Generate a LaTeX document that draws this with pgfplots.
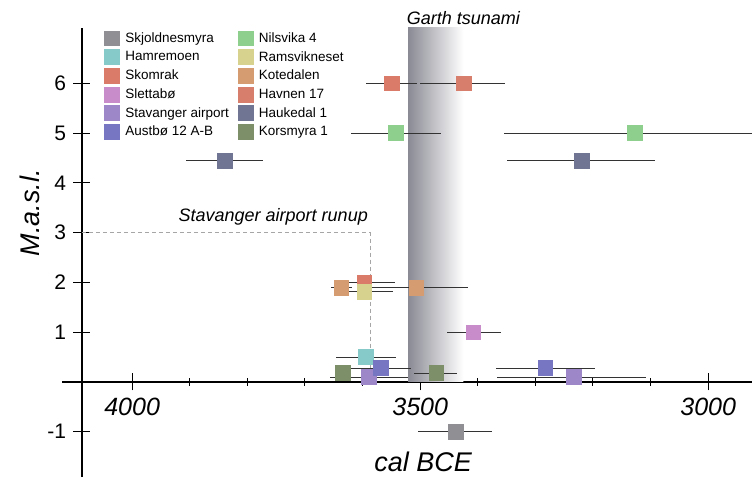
\documentclass[border=0pt]{standalone}
\usepackage{pgfplots}
\pgfplotsset{compat=1.18}
\usepackage{fontspec}
\setmainfont{Liberation Sans}
\usetikzlibrary{calc}

\definecolor{cSkj}{HTML}{8F8F94}
\definecolor{cHam}{HTML}{86CBC9}
\definecolor{cSko}{HTML}{D97B68}
\definecolor{cSle}{HTML}{C98CCB}
\definecolor{cSta}{HTML}{9D87C9}
\definecolor{cAus}{HTML}{7676C2}
\definecolor{cNil}{HTML}{8ECF8E}
\definecolor{cRam}{HTML}{D7D38E}
\definecolor{cKot}{HTML}{D59C72}
\definecolor{cHav}{HTML}{D87E6C}
\definecolor{cHau}{HTML}{6F7593}
\definecolor{cKor}{HTML}{7D8F69}
\definecolor{band}{HTML}{8A8A94}

\pgfplotsset{
  site/.style={only marks, mark=square*, mark size=7.4pt,
    color=#1, mark options={draw=none, fill=#1, solid},
    error bars/.cd, x dir=both, x explicit, error mark=none,
    error bar style={color=black!80, line width=0.8pt, solid}},
}

\begin{document}
\begin{tikzpicture}
\begin{axis}[name=ax,
  scale only axis, width=670pt, height=449pt,
  x dir=reverse, xmin=2924, xmax=4087, ymin=-1.91, ymax=7.11,
  axis x line=middle, axis y line=left,
  axis line style={-, black},
  x axis line style={line width=1.8pt},
  y axis line style={line width=1.1pt},
  clip=false,
  xtick={3000,3500,4000}, xticklabels={3000,3500,4000},
  minor x tick num=4,
  ytick={-1,1,2,3,4,5,6}, yticklabels={-1,1,2,3,4,5,6},
  tick align=center,
  major tick length=17pt, minor tick length=8pt,
  every tick/.style={black, line width=1pt},
  xticklabel style={font=\fontsize{25}{25}\selectfont\itshape, yshift=-4pt},
  yticklabel style={font=\fontsize{21}{21}\selectfont, xshift=-4pt},
  legend style={at={(0.029,0.999)}, anchor=north west, draw=none, fill=none,
    nodes={font=\fontsize{13.5}{15}\selectfont}, row sep=3.4pt,
    /tikz/column 1/.style={column sep=4pt},
    /tikz/column 2/.style={column sep=7pt},
    /tikz/column 3/.style={column sep=4pt}},
  legend columns=6, transpose legend, legend cell align=left,
]
% Garth tsunami band
\fill[left color=band, middle color=band!40, right color=white, draw=none]
  (axis cs:3521,0) rectangle (axis cs:3425,7.11);
% Stavanger airport runup
\draw[black!35, line width=0.6pt, dash pattern=on 4pt off 3pt]
  (axis cs:4087,3) -- (axis cs:3587,3) -- (axis cs:3587,0);

\addplot[site=cSkj] coordinates {(3439,-1) += (64,0) -= (64,0)};
\addlegendentry{Skjoldnesmyra}
\addplot[site=cHam] coordinates {(3594,0.5) += (52,0) -= (52,0)};
\addlegendentry{Hamremoen}
\addplot[site=cSko] coordinates {
  (3549,6) += (45,0) -= (44,0)
  (3597,2.0) += (53,0) -= (54,0)};
\addlegendentry{Skomrak}
\addplot[site=cSle] coordinates {(3408,1.0) += (45,0) -= (49,0)};
\addlegendentry{Slettabø}
\addplot[site=cSta] coordinates {
  (3589,0.1) += (67,0) -= (68,0)
  (3233,0.1) += (133,0) -= (125,0)};
\addlegendentry{Stavanger airport}
\addplot[site=cAus] coordinates {
  (3569,0.28) += (61,0) -= (53,0)
  (3283,0.28) += (85,0) -= (87,0)};
\addlegendentry{Austbø 12 A-B}
\addplot[site=cNil] coordinates {
  (3542,5) += (78,0) -= (78,0)
  (3128,5) += (226,0) -= (228,0)};
\addlegendentry{Nilsvika 4}
\addplot[site=cRam] coordinates {(3597,1.81) += (43,0) -= (50,0)};
\addlegendentry{Ramsvikneset}
\addplot[site=cKot] coordinates {
  (3637,1.89) += (18,0) -= (19,0)
  (3507,1.89) += (93,0) -= (90,0)};
\addlegendentry{Kotedalen}
\addplot[site=cHav] coordinates {(3425,6) += (75,0) -= (73,0)};
\addlegendentry{Havnen 17}
\addplot[site=cHau] coordinates {
  (3839,4.45) += (67,0) -= (66,0)
  (3220,4.45) += (129,0) -= (128,0)};
\addlegendentry{Haukedal 1}
\addplot[site=cKor] coordinates {
  (3634,0.18) += (14,0) -= (12,0)
  (3472,0.18) += (38,0) -= (36,0)};
\addlegendentry{Korsmyra 1}

% x axis extends a little left of the y axis
\draw[line width=1.8pt] (axis cs:4087,0) -- (axis cs:4122,0);

\node[font=\fontsize{18}{18}\selectfont\itshape] at (axis cs:3425,7.31) {Garth tsunami};
\node[font=\fontsize{18}{18}\selectfont\itshape] at (axis cs:3755,3.31) {Stavanger airport runup};
\node[font=\fontsize{27}{27}\selectfont\itshape] at (axis cs:3495,-1.61) {cal BCE};
\node[font=\fontsize{27}{27}\selectfont\itshape, rotate=90] at ([xshift=-52pt]axis cs:4087,3.4) {M.a.s.l.};
\end{axis}
\pgfresetboundingbox
\path ([xshift=-82pt]ax.south west) rectangle ([yshift=28pt]ax.north east);
\end{tikzpicture}
\end{document}
